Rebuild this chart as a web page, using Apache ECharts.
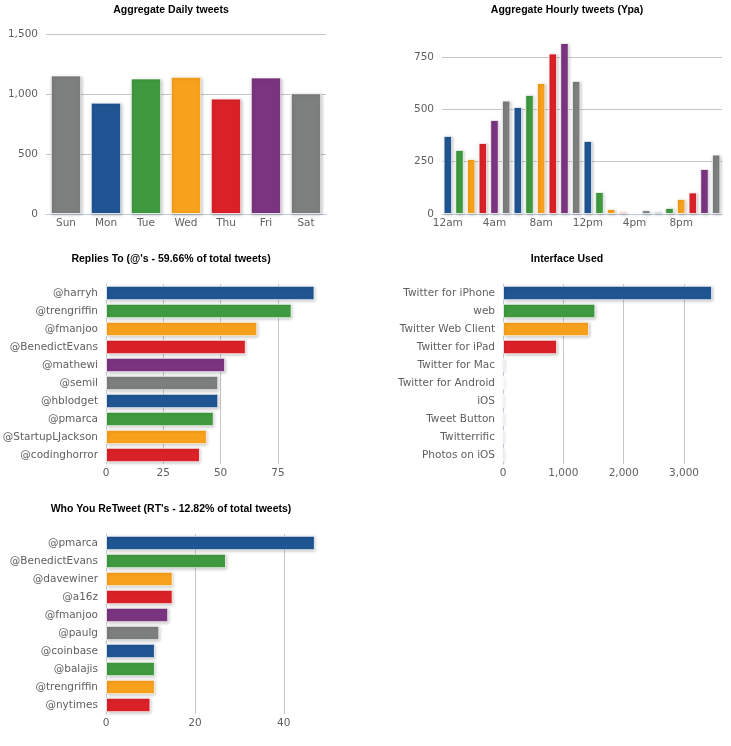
<!DOCTYPE html>
<html><head><meta charset="utf-8">
<script src="https://cdn.jsdelivr.net/npm/echarts@6/dist/echarts.min.js"></script>
<style>html,body{margin:0;padding:0;background:#fff}#c{width:731px;height:746px}</style>
</head><body><div id="c"></div>
<script>
// ---- data ----
const days = ['Sun', 'Mon', 'Tue', 'Wed', 'Thu', 'Fri', 'Sat'];
const dailyTweets = [1155, 928, 1130, 1143, 962, 1138, 1006];

const hours = ['12am','1am','2am','3am','4am','5am','6am','7am','8am','9am','10am','11am',
               '12pm','1pm','2pm','3pm','4pm','5pm','6pm','7pm','8pm','9pm','10pm','11pm'];
const hourlyTweets = [373, 306, 263, 339, 449, 542, 511, 569, 626, 767, 817, 636,
                      349, 105, 24, 10, 3, 18, 10, 29, 72, 103, 215, 284];

const replyNames = ['@harryh', '@trengriffin', '@fmanjoo', '@BenedictEvans', '@mathewi',
                    '@semil', '@hblodget', '@pmarca', '@StartupLJackson', '@codinghorror'];
const replyCounts = [91, 81, 66, 61, 52, 49, 49, 47, 44, 41];

const interfaceNames = ['Twitter for iPhone', 'web', 'Twitter Web Client', 'Twitter for iPad',
                        'Twitter for Mac', 'Twitter for Android', 'iOS', 'Tweet Button',
                        'Twitterrific', 'Photos on iOS'];
const interfaceCounts = [3466, 1531, 1426, 896, 24, 16, 8, 6, 4, 3];

const retweetNames = ['@pmarca', '@BenedictEvans', '@davewiner', '@a16z', '@fmanjoo',
                      '@paulg', '@coinbase', '@balajis', '@trengriffin', '@nytimes'];
const retweetCounts = [47, 27, 15, 15, 14, 12, 11, 11, 11, 10];

// ---- style ----
const palette = ['#1f5592', '#3f9a3f', '#f8a11c', '#db2128', '#7b3580', '#7d7f7e'];
const FONT = 'DejaVu Sans';
const LABEL = { fontFamily: FONT, fontSize: 10.5, color: '#606060' };
const GRIDC = '#c6c6c6';
const AXISC = '#c0ccd8';

function items(values, offset) {
  return values.map((v, i) => ({ value: v, itemStyle: { color: palette[(i + offset) % 6] } }));
}
const barStyle = {
  borderColor: 'rgba(255,255,255,0.75)', borderWidth: 1,
  shadowColor: 'rgba(0,0,0,0.22)', shadowBlur: 3, shadowOffsetX: 1, shadowOffsetY: 1
};
function title(text, x, y) {
  return { text: text, left: x, top: y, textAlign: 'center', padding: 0,
    textStyle: { fontFamily: 'Liberation Sans', fontWeight: 'bold', fontSize: 10.5, color: '#000' } };
}
function catX(idx, data, labelInterval) {
  return { type: 'category', gridIndex: idx, data: data,
    axisLine: { lineStyle: { color: AXISC } },
    axisTick: { length: 5, interval: 0, lineStyle: { color: AXISC } },
    axisLabel: Object.assign({ margin: 4, interval: labelInterval }, LABEL),
    splitLine: { show: false } };
}
function valY(idx, max, interval, hideMax) {
  return { type: 'value', gridIndex: idx, min: 0, max: max, interval: interval,
    axisLine: { show: false }, axisTick: { show: false },
    axisLabel: Object.assign({ margin: 8, showMaxLabel: !hideMax }, LABEL),
    splitLine: { show: true, showMinLine: false, showMaxLine: !hideMax, lineStyle: { color: GRIDC } } };
}
function catY(idx, data) {
  return { type: 'category', gridIndex: idx, data: data, inverse: true,
    axisLine: { lineStyle: { color: AXISC } },
    axisTick: { length: 5, alignWithLabel: true, lineStyle: { color: AXISC } },
    axisLabel: Object.assign({ margin: 8, interval: 0 }, LABEL),
    splitLine: { show: false } };
}
function valX(idx, max, interval) {
  return { type: 'value', gridIndex: idx, min: 0, max: max, interval: interval,
    axisLine: { show: false }, axisTick: { show: false },
    axisLabel: Object.assign({ margin: 4, showMaxLabel: false }, LABEL),
    splitLine: { show: true, showMinLine: false, showMaxLine: false, lineStyle: { color: GRIDC } } };
}

const option = {
  animation: false,
  backgroundColor: '#fff',
  title: [
    title('Aggregate Daily tweets', 171, 5),
    title('Aggregate Hourly tweets (Ypa)', 567, 5),
    title("Replies To (@'s - 59.66% of total tweets)", 171, 254),
    title('Interface Used', 567, 254),
    title("Who You ReTweet (RT's - 12.82% of total tweets)", 171, 504)
  ],
  grid: [
    { left: 46, top: 34, width: 280, height: 180, outerBoundsMode: 'none' },
    { left: 442, top: 34, width: 280, height: 180, outerBoundsMode: 'none' },
    { left: 106, top: 284, width: 220, height: 180, outerBoundsMode: 'none' },
    { left: 503, top: 284, width: 219, height: 180, outerBoundsMode: 'none' },
    { left: 106, top: 534, width: 220, height: 180, outerBoundsMode: 'none' }
  ],
  xAxis: [
    catX(0, days, 0),
    catX(1, hours, 3),
    valX(2, 96, 25),
    valX(3, 3630, 1000),
    valX(4, 49.5, 20)
  ],
  yAxis: [
    valY(0, 1500, 500, false),
    valY(1, 860, 250, true),
    catY(2, replyNames),
    catY(3, interfaceNames),
    catY(4, retweetNames)
  ],
  series: [
    { type: 'bar', xAxisIndex: 0, yAxisIndex: 0, data: items(dailyTweets, 5), barCategoryGap: '24%', itemStyle: barStyle },
    { type: 'bar', xAxisIndex: 1, yAxisIndex: 1, data: items(hourlyTweets, 0), barCategoryGap: '27%', itemStyle: barStyle },
    { type: 'bar', xAxisIndex: 2, yAxisIndex: 2, data: items(replyCounts, 0), barCategoryGap: '20%', itemStyle: barStyle },
    { type: 'bar', xAxisIndex: 3, yAxisIndex: 3, data: items(interfaceCounts, 0), barCategoryGap: '20%', itemStyle: barStyle },
    { type: 'bar', xAxisIndex: 4, yAxisIndex: 4, data: items(retweetCounts, 0), barCategoryGap: '20%', itemStyle: barStyle }
  ]
};
const chart = echarts.init(document.getElementById('c'), null, { renderer: 'canvas' });
chart.setOption(option);
</script></body></html>
